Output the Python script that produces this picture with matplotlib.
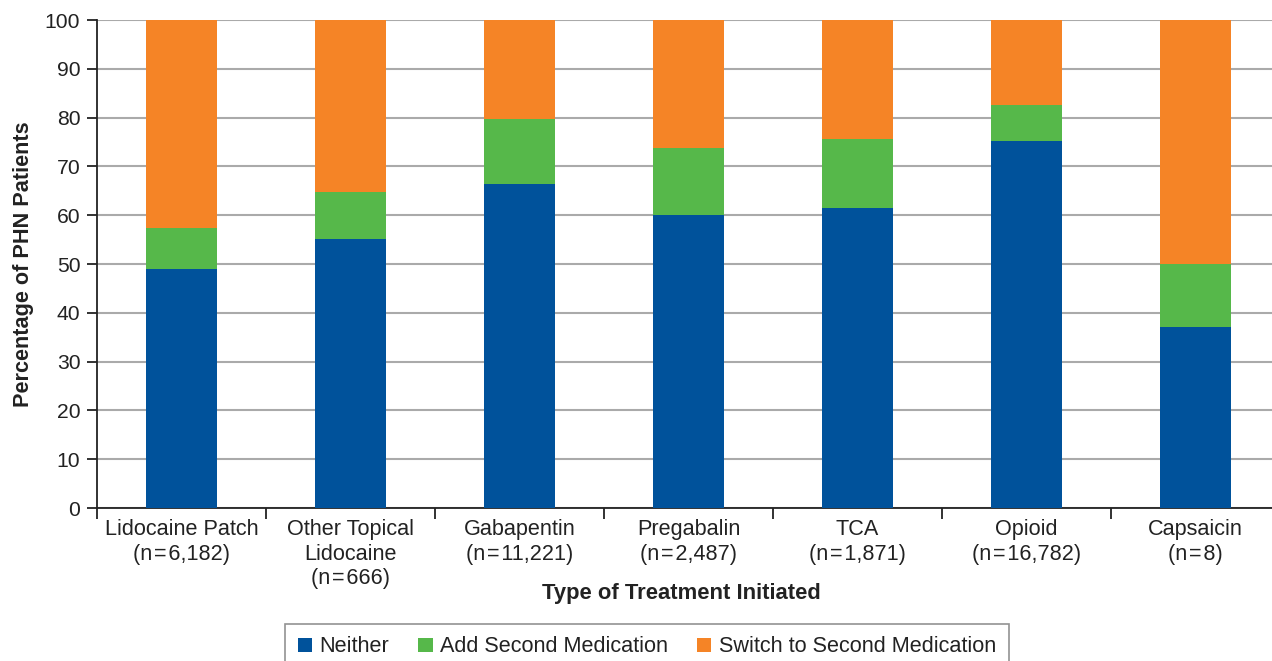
import matplotlib
matplotlib.use("Agg")
import matplotlib.pyplot as plt
from matplotlib.patches import Patch
import numpy as np

plt.rcParams['font.family'] = ['Liberation Sans', 'DejaVu Sans']

categories = ["Lidocaine Patch\n(n\u200a=\u200a6,182)", "Other Topical\nLidocaine\n(n\u200a=\u200a666)",
              "Gabapentin\n(n\u200a=\u200a11,221)", "Pregabalin\n(n\u200a=\u200a2,487)",
              "TCA\n(n\u200a=\u200a1,871)", "Opioid\n(n\u200a=\u200a16,782)", "Capsaicin\n(n\u200a=\u200a8)"]
neither = [49.0, 55.1, 66.4, 60.0, 61.5, 75.2, 37.0]
add_second = [8.4, 9.7, 13.3, 13.8, 14.1, 7.3, 13.0]
switch_second = [42.6, 35.2, 20.3, 26.2, 24.4, 17.5, 50.0]
series_names = ["Neither", "Add Second Medication", "Switch to Second Medication"]
colors = ["#00529B", "#56B84A", "#F58426"]
yticks = [0, 10, 20, 30, 40, 50, 60, 70, 80, 90, 100]

W, H = 1272, 661
fig = plt.figure(figsize=(W / 100, H / 100), dpi=100)
ax = fig.add_axes([97 / W, 153 / H, 1183 / W, 488 / H])

x = np.arange(len(categories))
bw = 0.42
ax.bar(x, neither, bw, color=colors[0], zorder=3)
ax.bar(x, add_second, bw, bottom=neither, color=colors[1], zorder=3)
bottom3 = np.array(neither) + np.array(add_second)
ax.bar(x, switch_second, bw, bottom=bottom3, color=colors[2], zorder=3)

ax.set_xlim(-0.5, len(categories) - 0.5)
ax.set_ylim(0, 100)
ax.set_yticks(yticks)
ax.set_yticklabels([str(t) for t in yticks], fontsize=15.2, color="#222222")
ax.yaxis.grid(True, color="#AAAAAA", linewidth=1.5, zorder=0)
ax.set_axisbelow(True)

for s in ["top", "right"]:
    ax.spines[s].set_visible(False)
ax.spines["left"].set_color("#222222")
ax.spines["left"].set_linewidth(1.3)
ax.spines["bottom"].set_color("#222222")
ax.spines["bottom"].set_linewidth(1.3)
ax.tick_params(axis="y", direction="out", length=7, width=1.3, color="#222222", pad=5)

ax.set_xticks(x)
ax.set_xticklabels(categories, fontsize=15.6, color="#222222", linespacing=1.22, va="top")
ax.tick_params(axis="x", which="major", length=0, pad=8)
ax.set_xticks(np.arange(-0.5, len(categories) + 0.5, 1.0), minor=True)
ax.tick_params(axis="x", which="minor", direction="out", length=8, width=1.3, color="#222222")

ax.set_ylabel("Percentage of PHN Patients", fontsize=15.6, fontweight="bold", color="#222222")
ax.yaxis.set_label_coords(-(97 - 34) / 1183, 0.5)
fig.text((97 + 1183 / 2 - 7) / W, 1 - 594 / H, "Type of Treatment Initiated", fontsize=15.8, fontweight="bold",
         color="#222222", ha="center", va="center")

handles = [Patch(facecolor=c, edgecolor="none") for c in colors]
leg = fig.legend(handles, series_names, loc="center", bbox_to_anchor=(647 / W, 1 - 647 / H), ncol=3,
                 fontsize=15.6, frameon=True, fancybox=False, handlelength=0.65, handleheight=0.65,
                 handletextpad=0.35, columnspacing=1.35, borderpad=0.6, borderaxespad=0)
leg.get_frame().set_edgecolor("#777777")
leg.get_frame().set_linewidth(1.2)
for t in leg.get_texts():
    t.set_color("#222222")

fig.savefig("out.png", dpi=100)
